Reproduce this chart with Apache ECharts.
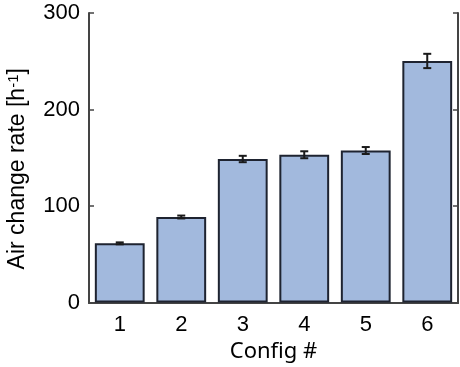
<!DOCTYPE html>
<html><head><meta charset="utf-8">
<script src="https://cdn.jsdelivr.net/npm/echarts@6/dist/echarts.min.js"></script>
<style>html,body{margin:0;padding:0;background:#fff}#c{width:460px;height:367px}</style>
</head><body><div id="c"></div>
<script>
const categories = ['1', '2', '3', '4', '5', '6'];
const values = [61.3, 88.6, 148.7, 153.1, 157.5, 250.3];
const errors = [1.0, 1.5, 3.3, 3.6, 3.6, 7.4];
const yTicks = { min: 0, max: 300, interval: 100 };

const axisColor = '#444';
const tickFont = { fontFamily: 'Liberation Sans', fontSize: 22, color: '#000' };

const chart = echarts.init(document.getElementById('c'), null, { renderer: 'canvas' });
chart.setOption({
  animation: false,
  grid: { left: 89, right: 2, top: 13, bottom: 64.5, containLabel: false, outerBoundsMode: 'none' },
  xAxis: [
    {
      type: 'category', data: categories, position: 'bottom',
      axisLine: { lineStyle: { color: axisColor, width: 2 } },
      axisTick: { inside: true, length: 5, alignWithLabel: true, lineStyle: { color: axisColor, width: 1.5 } },
      axisLabel: Object.assign({ margin: 11 }, tickFont),
      name: 'Config #', nameLocation: 'middle', nameGap: 35,
      nameTextStyle: { fontFamily: 'Noto Sans', fontSize: 22, color: '#000' }
    },
    {
      type: 'category', data: categories, position: 'top',
      axisLine: { lineStyle: { color: axisColor, width: 2 } },
      axisTick: { inside: true, length: 5, alignWithLabel: true, lineStyle: { color: axisColor, width: 1.5 } },
      axisLabel: { show: false }
    }
  ],
  yAxis: [
    {
      type: 'value', min: yTicks.min, max: yTicks.max, interval: yTicks.interval, position: 'left',
      axisLine: { show: true, lineStyle: { color: axisColor, width: 2 } },
      axisTick: { show: true, inside: true, length: 5, lineStyle: { color: axisColor, width: 1.5 } },
      splitLine: { show: false },
      axisLabel: Object.assign({ margin: 9 }, tickFont),
      name: 'Air change rate [h{sup|-1}]', nameLocation: 'middle', nameGap: 60,
      nameTextStyle: {
        fontFamily: 'Liberation Sans', fontSize: 23, color: '#000',
        padding: [0, 22, 0, 0],
        rich: { sup: { fontFamily: 'Liberation Sans', fontSize: 15, color: '#000', verticalAlign: 'top', lineHeight: 15 } }
      }
    },
    {
      type: 'value', min: yTicks.min, max: yTicks.max, interval: yTicks.interval, position: 'right',
      axisLine: { show: true, lineStyle: { color: axisColor, width: 2 } },
      axisTick: { show: true, inside: true, length: 5, lineStyle: { color: axisColor, width: 1.5 } },
      splitLine: { show: false },
      axisLabel: { show: false }
    }
  ],
  series: [
    {
      type: 'bar', data: values, barWidth: '81%', xAxisIndex: 0, yAxisIndex: 0,
      itemStyle: { color: '#a2b9dd', borderColor: '#1e2330', borderWidth: 2 },
      z: 2
    },
    {
      type: 'custom', xAxisIndex: 0, yAxisIndex: 0, z: 5,
      data: categories.map((c, i) => [i, values[i], errors[i]]),
      renderItem: function (params, api) {
        const x = api.value(0), v = api.value(1), e = api.value(2);
        const top = api.coord([x, v + e]);
        const bot = api.coord([x, v - e]);
        const hw = 4;
        const st = { stroke: '#1a1a1a', lineWidth: 2 };
        return {
          type: 'group', children: [
            { type: 'line', shape: { x1: top[0], y1: top[1], x2: bot[0], y2: bot[1] }, style: st },
            { type: 'line', shape: { x1: top[0] - hw, y1: top[1], x2: top[0] + hw, y2: top[1] }, style: st },
            { type: 'line', shape: { x1: bot[0] - hw, y1: bot[1], x2: bot[0] + hw, y2: bot[1] }, style: st }
          ]
        };
      }
    }
  ]
});
</script></body></html>
